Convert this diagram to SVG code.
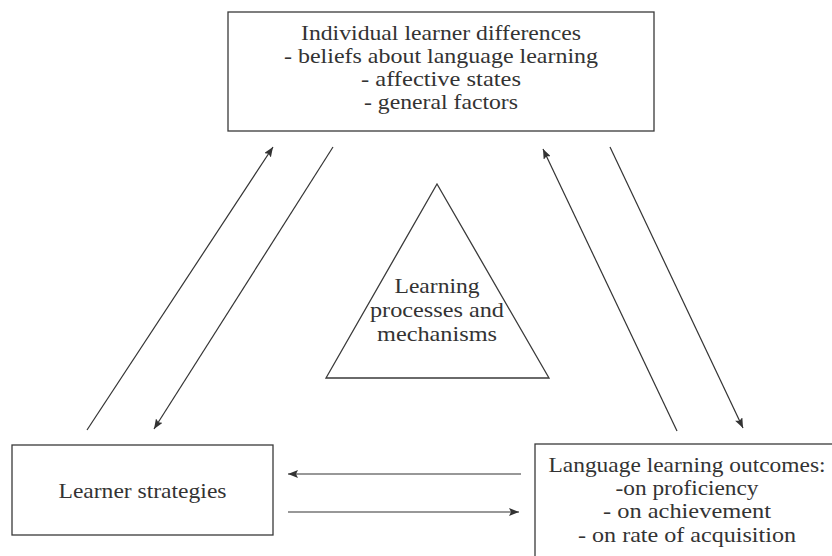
<svg xmlns="http://www.w3.org/2000/svg" width="832" height="556" viewBox="0 0 832 556">
  <style>
    .box { fill: #ffffff; stroke: #3a3a3a; stroke-width: 1.3; }
    .lbl { font-family: "Liberation Serif", "Times New Roman", serif; font-size: 21.5px; fill: #333333; text-anchor: middle; }
    .conn { stroke: #333333; stroke-width: 1.2; fill: none; marker-end: url(#head); }
  </style>
  <defs>
    <marker id="head" viewBox="0 0 10 8" refX="10" refY="4" markerWidth="10" markerHeight="8" markerUnits="userSpaceOnUse" orient="auto">
      <path d="M0,0 L10,4 L0,8 L2,4 Z" fill="#333333"/>
    </marker>
  </defs>
  <rect width="832" height="556" fill="#ffffff"/>

  <!-- top box -->
  <g id="differences">
    <rect class="box" x="228" y="12" width="426" height="119"/>
    <text class="lbl" x="441" y="40" textLength="280" lengthAdjust="spacingAndGlyphs">Individual learner differences</text>
    <text class="lbl" x="441" y="63" textLength="314" lengthAdjust="spacingAndGlyphs">- beliefs about language learning</text>
    <text class="lbl" x="441" y="86" textLength="160" lengthAdjust="spacingAndGlyphs">- affective states</text>
    <text class="lbl" x="441" y="109" textLength="154" lengthAdjust="spacingAndGlyphs">- general factors</text>
  </g>

  <!-- central triangle -->
  <g id="processes">
    <polygon class="box" points="437,184 549,378 326,378"/>
    <text class="lbl" x="437" y="293" textLength="85" lengthAdjust="spacingAndGlyphs">Learning</text>
    <text class="lbl" x="437" y="317" textLength="134" lengthAdjust="spacingAndGlyphs">processes and</text>
    <text class="lbl" x="437" y="341" textLength="120" lengthAdjust="spacingAndGlyphs">mechanisms</text>
  </g>

  <!-- bottom left box -->
  <g id="strategies">
    <rect class="box" x="12" y="445" width="261" height="90"/>
    <text class="lbl" x="142.5" y="498" textLength="168" lengthAdjust="spacingAndGlyphs">Learner strategies</text>
  </g>

  <!-- bottom right box, runs past the canvas edge -->
  <g id="outcomes">
    <rect class="box" x="535" y="444" width="310" height="130"/>
    <text class="lbl" x="687" y="472" textLength="277" lengthAdjust="spacingAndGlyphs">Language learning outcomes:</text>
    <text class="lbl" x="687" y="495" textLength="143" lengthAdjust="spacingAndGlyphs">-on proficiency</text>
    <text class="lbl" x="687" y="518" textLength="168" lengthAdjust="spacingAndGlyphs">- on achievement</text>
    <text class="lbl" x="687" y="542" textLength="218" lengthAdjust="spacingAndGlyphs">- on rate of acquisition</text>
  </g>

  <g id="connectors">
    <line class="conn" x1="87" y1="430" x2="273" y2="147"/>
    <line class="conn" x1="333" y1="147" x2="154" y2="429"/>
    <line class="conn" x1="677" y1="431" x2="543" y2="149"/>
    <line class="conn" x1="610" y1="147" x2="743" y2="428"/>
    <line class="conn" x1="521" y1="474" x2="288" y2="474"/>
    <line class="conn" x1="288" y1="512" x2="519" y2="512"/>
  </g>
</svg>
